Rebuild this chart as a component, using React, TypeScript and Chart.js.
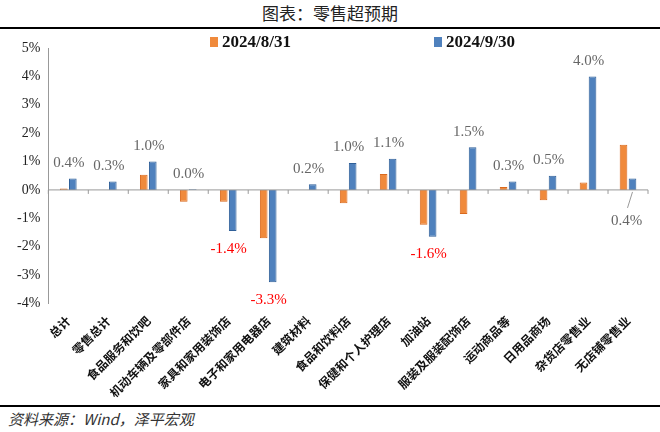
import React, { useEffect, useRef } from "react";
import { Chart, registerables } from "chart.js";
Chart.register(...registerables);

const categories = ["总计","零售总计","食品服务和饮吧","机动车辆及零部件店","家具和家用装饰店","电子和家用电器店","建筑材料","食品和饮料店","保健和个人护理店","加油站","服装及服装配饰店","运动商品等","日用品商场","杂货店零售业","无店铺零售业"];
const aug = [0.05,0,0.53,-0.42,-0.42,-1.7,0,-0.47,0.56,-1.23,-0.85,0.1,-0.36,0.26,1.59];
const sep = [0.4,0.3,1.0,0.02,-1.45,-3.25,0.2,0.95,1.1,-1.65,1.5,0.3,0.5,4.0,0.4];
const sepLabels = ["0.4%","0.3%","1.0%","0.0%","-1.4%","-3.3%","0.2%","1.0%","1.1%","-1.6%","1.5%","0.3%","0.5%","4.0%","0.4%"];
const seriesNames = ["2024/8/31","2024/9/30"];
const ORANGE = "#F08A3C", BLUE = "#4F81BD";

const deco = {
  id: "deco",
  afterDatasetsDraw(chart: any) {
    const { ctx, scales: { x, y }, chartArea } = chart;
    const y0 = y.getPixelForValue(0);
    ctx.save();
    ctx.strokeStyle = "#999"; ctx.lineWidth = 1;
    ctx.beginPath(); ctx.moveTo(chartArea.left, y0); ctx.lineTo(chartArea.right, y0); ctx.stroke();
    const n = categories.length;
    for (let i = 0; i <= n; i++) {
      const px = chartArea.left + (chartArea.right - chartArea.left) * i / n;
      ctx.beginPath(); ctx.moveTo(px, y0); ctx.lineTo(px, y0 + 4); ctx.stroke();
    }
    const meta = chart.getDatasetMeta(1);
    ctx.font = "15px 'Liberation Serif'"; ctx.textAlign = "center";
    meta.data.forEach((b: any, i: number) => {
      const v = sep[i];
      if (i === n - 1) {
        ctx.fillStyle = "#666";
        ctx.beginPath(); ctx.moveTo(b.x, y0 + 2); ctx.lineTo(b.x - 5, y0 + 18); ctx.stroke();
        ctx.textBaseline = "top"; ctx.fillText(sepLabels[i], b.x - 6, y0 + 24);
        return;
      }
      if (v < 0) { ctx.fillStyle = "#FF0000"; ctx.textBaseline = "top"; ctx.fillText(sepLabels[i], b.x - 4, b.y + 10); }
      else { ctx.fillStyle = "#666"; ctx.textBaseline = "bottom"; ctx.fillText(sepLabels[i], b.x - 4, b.y - 8); }
    });
    ctx.font = "bold 17px 'Liberation Serif'"; ctx.textBaseline = "middle"; ctx.textAlign = "left";
    const ly = 12;
    [[ORANGE, 206], [BLUE, 430]].forEach(([c, lx]: any, k) => {
      ctx.fillStyle = c; ctx.fillRect(lx, ly - 5, 8, 10);
      ctx.fillStyle = "#111"; ctx.fillText(seriesNames[k], lx + 12, ly + 1);
    });
    ctx.restore();
  },
};

export default function App() {
  const ref = useRef<HTMLCanvasElement>(null);
  useEffect(() => {
    const chart = new Chart(ref.current!, {
      type: "bar",
      data: {
        labels: categories,
        datasets: [
          { label: seriesNames[0], data: aug, backgroundColor: ORANGE, borderColor: "#D9691E", borderWidth: 1, categoryPercentage: 0.45, barPercentage: 0.85 },
          { label: seriesNames[1], data: sep, backgroundColor: BLUE, borderColor: "#2F5F98", borderWidth: 1, categoryPercentage: 0.45, barPercentage: 0.85 },
        ],
      },
      options: {
        animation: false, responsive: false,
        layout: { padding: { top: 18, right: 6, left: 10, bottom: 0 } },
        plugins: { legend: { display: false }, tooltip: { enabled: false } },
        scales: {
          x: { grid: { display: false }, border: { display: false },
            ticks: { maxRotation: 45, minRotation: 45, autoSkip: false, color: "#111", font: { size: 12, weight: "bold", family: "'Noto Sans CJK SC'" }, padding: 2 } },
          y: { min: -4, max: 5, grid: { display: false, drawTicks: true, tickLength: 5 } as any,
            border: { color: "#999" },
            ticks: { stepSize: 1, callback: (v: any) => v + "%", color: "#222", font: { size: 14, family: "'Liberation Serif'" } } },
        },
      },
      plugins: [deco],
    });
    return () => chart.destroy();
  }, []);
  return (
    <div style={{ position: "fixed", left: 0, top: 0, width: 660, height: 432, background: "#fff", fontFamily: "'Noto Sans CJK SC'" }}>
      <div style={{ position: "absolute", top: 0, width: 660, textAlign: "center", fontSize: 17, lineHeight: "26px", color: "#222" }}>图表：零售超预期</div>
      <div style={{ position: "absolute", top: 27, left: 0, width: 660, height: 2, background: "#000" }} />
      <canvas ref={ref} width={650} height={372} style={{ position: "absolute", left: 4, top: 30 }} />
      <div style={{ position: "absolute", top: 405, left: 0, width: 660, height: 2, background: "#000" }} />
      <div style={{ position: "absolute", top: 408, left: 8, fontSize: 15, fontStyle: "italic", color: "#333" }}>资料来源：Wind，泽平宏观</div>
    </div>
  );
}
